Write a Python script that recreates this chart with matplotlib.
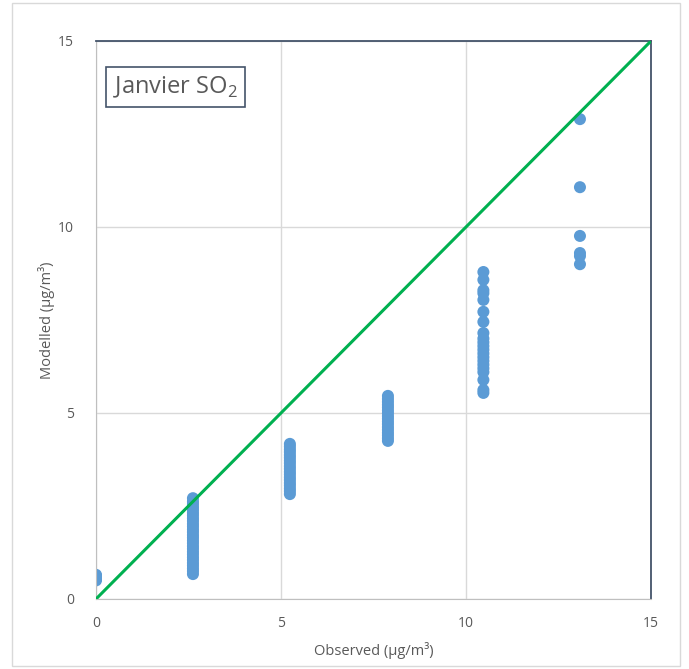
import matplotlib.pyplot as plt
from matplotlib.patches import Rectangle

plt.rcParams["font.family"] = ["Open Sans", "DejaVu Sans"]

# observed stations (µg/m3) and modelled values
obs_0 = 0.0
mod_0 = [0.5, 0.54, 0.58, 0.62, 0.65]
obs_1 = 2.62
mod_1 = [0.67, 0.75, 0.82, 0.9, 0.97, 1.05, 1.12, 1.2, 1.27, 1.35, 1.42, 1.5, 1.57, 1.65, 1.72,
         1.8, 1.87, 1.95, 2.02, 2.1, 2.17, 2.25, 2.32, 2.4, 2.47, 2.55, 2.62, 2.71]
obs_2 = 5.24
mod_2 = [2.82, 2.9, 2.97, 3.05, 3.12, 3.2, 3.27, 3.35, 3.42, 3.5, 3.57, 3.65, 3.72, 3.8, 3.87,
         3.95, 4.02, 4.1, 4.17]
obs_3 = 7.89
mod_3 = [4.25, 4.32, 4.4, 4.47, 4.55, 4.62, 4.7, 4.77, 4.85, 4.92, 5.0, 5.07, 5.15, 5.22, 5.3,
         5.38, 5.46]
obs_4 = 10.47
mod_4 = [8.79, 8.58, 8.3, 8.22, 8.04, 7.72, 7.45, 7.15, 7.0, 6.9, 6.8, 6.7, 6.6, 6.5, 6.4, 6.3,
         6.2, 6.1, 5.89, 5.62, 5.54]
obs_5 = 13.08
mod_5 = [12.9, 11.07, 9.76, 9.3, 9.22, 9.0]

x = [obs_0] * len(mod_0) + [obs_1] * len(mod_1) + [obs_2] * len(mod_2) + \
    [obs_3] * len(mod_3) + [obs_4] * len(mod_4) + [obs_5] * len(mod_5)
y = mod_0 + mod_1 + mod_2 + mod_3 + mod_4 + mod_5

txt = "#595959"
fig = plt.figure(figsize=(6.89, 6.69), dpi=100)
ax = fig.add_axes([96 / 689, 70 / 669, 555 / 689, 558 / 669])

ax.grid(True, color="#D9D9D9", linewidth=1)
ax.set_axisbelow(True)
ax.plot([0, 15], [0, 15], color="#00B050", linewidth=2.2, zorder=3)
ax.scatter(x, y, s=75, color="#5B9BD5", edgecolors="none", zorder=2)

ax.set_xlim(0, 15)
ax.set_ylim(0, 15)
ax.set_xticks([0, 5, 10, 15])
ax.set_yticks([0, 5, 10, 15])
ax.tick_params(length=0, labelsize=10, labelcolor=txt, pad=12)
ax.tick_params(axis="y", pad=16)

for s in ["left", "bottom"]:
    ax.spines[s].set_color("#BFBFBF")
for s in ["top", "right"]:
    ax.spines[s].set_color("#44546A")
    ax.spines[s].set_linewidth(1.3)

ax.set_xlabel("Observed (µg/m³)", fontsize=10.5, color=txt, labelpad=8)
ax.set_ylabel("Modelled (µg/m³)", fontsize=10.5, color=txt, labelpad=2)

ax.text(0.03, 0.94, r"Janvier SO$_\mathregular{2}$", transform=ax.transAxes,
        fontsize=17, color=txt, va="top", ha="left",
        bbox=dict(boxstyle="square,pad=0.3", facecolor="white", edgecolor="#44546A", linewidth=1.2))

# outer chart border
fig.patches.append(Rectangle((12 / 689, 3 / 669), 668 / 689, 663 / 669, transform=fig.transFigure,
                             fill=False, edgecolor="#D9D9D9", linewidth=1))

fig.savefig("out.png", dpi=100)
